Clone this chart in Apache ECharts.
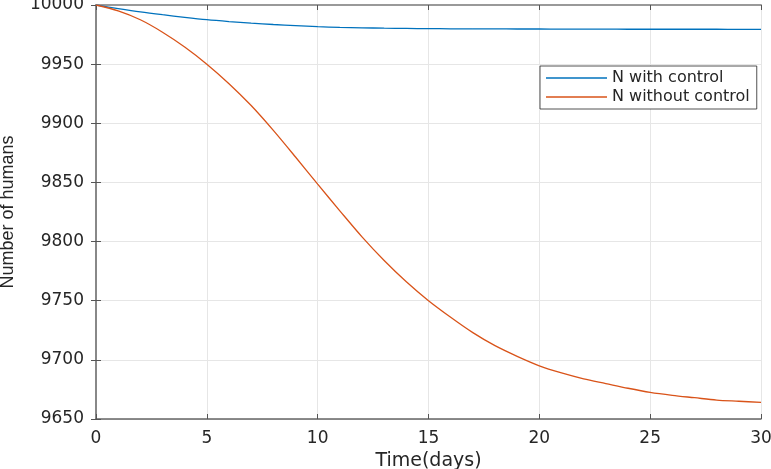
<!DOCTYPE html>
<html>
<head>
<meta charset="utf-8">
<script src="https://cdn.jsdelivr.net/npm/echarts@6/dist/echarts.min.js"></script>
<style>
html,body{margin:0;padding:0;background:#fff;}
#chart{width:771px;height:469px;}
</style>
</head>
<body>
<div id="chart"></div>
<script>
const days = [0,1,2,3,4,5,6,7,8,9,10,11,12,13,14,15,16,17,18,19,20,21,22,23,24,25,26,27,28,29,30];
const withControl = [10000,9997.0,9994.2,9991.8,9989.6,9987.6,9986.0,9984.6,9983.5,9982.6,9981.7,9981.1,9980.7,9980.4,9980.2,9980.0,9979.9,9979.8,9979.8,9979.7,9979.7,9979.6,9979.6,9979.6,9979.5,9979.5,9979.5,9979.5,9979.5,9979.4,9979.4];
const withoutControl = [10000,9995,9987.5,9977,9964.5,9950,9933.5,9915,9894,9871.5,9848.5,9826,9804,9784,9766,9750,9736,9723,9712,9703,9695,9689,9684,9680,9676,9672.5,9670,9668,9666,9665,9664];
const seriesNames = ['N with control','N without control'];
const xTicks = {min:0, max:30, interval:5};
const yTicks = {min:9650, max:10000, interval:50};

const chart = echarts.init(document.getElementById('chart'));
const pairs = arr => days.map((d,i)=>[d,arr[i]]);
const tickFont = {fontFamily:'DejaVu Sans', fontSize:17, color:'#262626'};
chart.setOption({
  animation:false,
  backgroundColor:'#fff',
  grid:{left:96,right:10,top:5,bottom:50,show:false,containLabel:false,outerBoundsMode:'none'},
  legend:{
    data:seriesNames, orient:'vertical', left:540, top:66,
    icon:'rect', itemWidth:61, itemHeight:1.3,
    backgroundColor:'#fff', borderColor:'#262626', borderWidth:0.8,
    padding:[4,7,4,6], itemGap:3,
    textStyle:{fontFamily:'DejaVu Sans', fontSize:16, color:'#262626', padding:[0,0,0,0]},
  },
  xAxis:[{
    type:'value', min:xTicks.min, max:xTicks.max, interval:xTicks.interval,
    name:'Time(days)', nameLocation:'middle', nameGap:33,
    nameTextStyle:{fontFamily:'DejaVu Sans', fontSize:19, color:'#262626'},
    axisLine:{lineStyle:{color:'#666',width:1.5}},
    axisTick:{inside:true,length:5,lineStyle:{color:'#555'}},
    axisLabel:Object.assign({margin:11, formatter:v=>String(v)},tickFont),
    splitLine:{show:true,lineStyle:{color:'#e6e6e6',width:1}}
  },{
    type:'value', position:'top', min:xTicks.min, max:xTicks.max, interval:xTicks.interval,
    axisLine:{lineStyle:{color:'#999',width:2}},
    axisTick:{inside:true,length:5,lineStyle:{color:'#555'}},
    axisLabel:{show:false}, splitLine:{show:false}
  }],
  yAxis:[{
    type:'value', min:yTicks.min, max:yTicks.max, interval:yTicks.interval,
    name:'Number of humans', nameLocation:'middle', nameGap:79, nameRotate:90,
    nameTextStyle:{fontFamily:'Liberation Sans', fontSize:18, color:'#262626'},
    axisLine:{show:true,lineStyle:{color:'#666',width:1.5}},
    axisTick:{show:true,inside:true,length:5,lineStyle:{color:'#555'}},
    axisLabel:Object.assign({margin:12, formatter:v=>String(v)},tickFont),
    splitLine:{show:true,lineStyle:{color:'#e6e6e6',width:1}}
  },{
    type:'value', position:'right', min:yTicks.min, max:yTicks.max, interval:yTicks.interval,
    axisLine:{show:true,lineStyle:{color:'#888',width:2}},
    axisTick:{show:true,inside:true,length:5,lineStyle:{color:'#555'}},
    axisLabel:{show:false}, splitLine:{show:false}
  }],
  series:[{
    name:seriesNames[0], type:'line', data:pairs(withControl),
    showSymbol:false, symbol:'none', smooth:0.3,
    lineStyle:{color:'#0072BD',width:1.3}, itemStyle:{color:'#0072BD'}
  },{
    name:seriesNames[1], type:'line', data:pairs(withoutControl),
    showSymbol:false, symbol:'none', smooth:0.3,
    lineStyle:{color:'#D95319',width:1.3}, itemStyle:{color:'#D95319'}
  }]
});
</script>
</body>
</html>
